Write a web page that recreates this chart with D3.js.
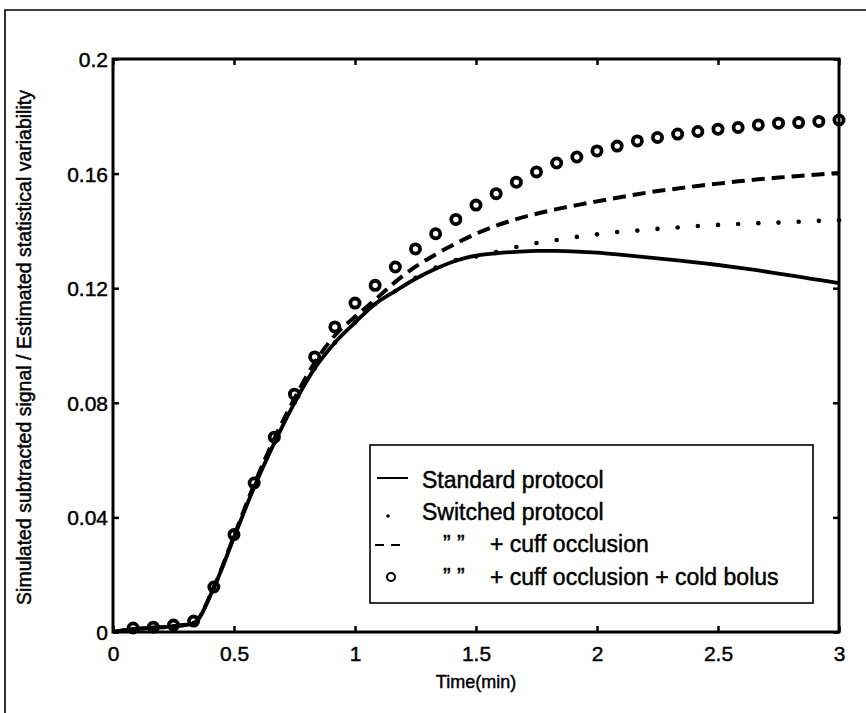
<!DOCTYPE html>
<html>
<head>
<meta charset="utf-8">
<script src="https://cdn.jsdelivr.net/npm/d3@7"></script>
<style>
  html, body { margin: 0; padding: 0; background: #fff; }
  svg { display: block; }
  text { font-family: "Liberation Sans", Arial, Helvetica, sans-serif; fill: #000; stroke: #000; stroke-width: 0.45px; }
</style>
</head>
<body>
<script>
// ---- data (time in minutes, sampled every 5 s) ----
const time = [0, 0.0833, 0.1667, 0.25, 0.3333, 0.4167, 0.5, 0.5833, 0.6667, 0.75, 0.8333, 0.9167,
  1.0, 1.0833, 1.1667, 1.25, 1.3333, 1.4167, 1.5, 1.5833, 1.6667, 1.75, 1.8333, 1.9167,
  2.0, 2.0833, 2.1667, 2.25, 2.3333, 2.4167, 2.5, 2.5833, 2.6667, 2.75, 2.8333, 2.9167, 3.0];

const standardProtocol = [0, 0.001, 0.0015, 0.002, 0.003, 0.0155, 0.033, 0.0505, 0.066, 0.080, 0.092, 0.101,
  0.108, 0.1145, 0.119, 0.1233, 0.1268, 0.1296, 0.1314, 0.1322, 0.1327, 0.1330, 0.1330, 0.1328,
  0.1324, 0.1318, 0.1311, 0.1304, 0.1297, 0.1289, 0.1281, 0.1272, 0.1262, 0.1251, 0.1240, 0.1229, 0.1218];

const switchedProtocol = [null, 0.001, 0.0015, 0.002, 0.003, 0.0155, 0.033, 0.0505, 0.066, 0.080, 0.092, 0.101,
  0.108, 0.1145, 0.119, 0.1236, 0.1272, 0.1298, 0.1311, 0.1326, 0.1344, 0.1358, 0.1368, 0.1379,
  0.1388, 0.1396, 0.1401, 0.1407, 0.1412, 0.1417, 0.1421, 0.1424, 0.1427, 0.1429, 0.1432, 0.1435, 0.1437];

const cuffOcclusion = [0, 0.001, 0.0015, 0.002, 0.0032, 0.0157, 0.0335, 0.0515, 0.0675, 0.0815, 0.094, 0.1035,
  0.110, 0.116, 0.1222, 0.1275, 0.1318, 0.1356, 0.1390, 0.1418, 0.1441, 0.146, 0.1476, 0.149,
  0.1503, 0.1516, 0.1528, 0.1539, 0.1548, 0.1557, 0.1565, 0.1573, 0.158, 0.1586, 0.1592, 0.1597, 0.1602];

const cuffColdBolus = [null, 0.0014, 0.0017, 0.0024, 0.0038, 0.0157, 0.034, 0.052, 0.068, 0.083, 0.096, 0.1065,
  0.1148, 0.121, 0.1274, 0.1337, 0.139, 0.144, 0.149, 0.153, 0.157, 0.1606, 0.1637, 0.1658,
  0.1679, 0.1696, 0.1714, 0.1726, 0.1738, 0.1747, 0.1755, 0.1761, 0.177, 0.1776, 0.1778, 0.1782, 0.1787];

const xTicks = [0, 0.5, 1, 1.5, 2, 2.5, 3];
const xTickLabels = ["0", "0.5", "1", "1.5", "2", "2.5", "3"];
const yTicks = [0, 0.04, 0.08, 0.12, 0.16, 0.2];
const yTickLabels = ["0", "0.04", "0.08", "0.12", "0.16", "0.2"];

const legendLabels = ["Standard protocol", "Switched protocol", "+ cuff occlusion", "+ cuff occlusion + cold bolus"];
const xLabel = "Time(min)";
const yLabel = "Simulated subtracted signal / Estimated statistical variability";

// ---- layout ----
const W = 866, H = 713;
const L = 113, R = 839, T = 59, B = 632;

const svg = d3.select("body").append("svg").attr("width", W).attr("height", H);
svg.append("rect").attr("width", W).attr("height", H).attr("fill", "#fff");

// outer figure frame
svg.append("path").attr("d", `M5,${H} L5,10 L${W},10`).attr("fill", "none")
  .attr("stroke", "#000").attr("stroke-width", 1.6);

const x = d3.scaleLinear().domain([0, 3]).range([L, R]);
const y = d3.scaleLinear().domain([0, 0.2]).range([B, T]);

const tickFont = 21;

// axes (MATLAB style: ticks inward, mirrored)
const gx = svg.append("g").attr("transform", `translate(0,${B})`)
  .call(d3.axisBottom(x).tickValues(xTicks).tickSizeInner(-6).tickSizeOuter(0).tickPadding(14)
    .tickFormat((d, i) => xTickLabels[i]));
const gxTop = svg.append("g").attr("transform", `translate(0,${T})`)
  .call(d3.axisTop(x).tickValues(xTicks).tickSizeInner(-6).tickSizeOuter(0).tickFormat(""));
const gy = svg.append("g").attr("transform", `translate(${L},0)`)
  .call(d3.axisLeft(y).tickValues(yTicks).tickSizeInner(-6).tickSizeOuter(0).tickPadding(5)
    .tickFormat((d, i) => yTickLabels[i]));
const gyR = svg.append("g").attr("transform", `translate(${R},0)`)
  .call(d3.axisRight(y).tickValues(yTicks).tickSizeInner(-6).tickSizeOuter(0).tickFormat(""));

[gx, gxTop, gy, gyR].forEach(g => {
  g.select(".domain").remove();
  g.selectAll(".tick line").attr("stroke", "#000").attr("stroke-width", 2.5);
  g.selectAll(".tick text").attr("font-size", tickFont).attr("font-family", "Liberation Sans, Arial, sans-serif").attr("fill", "#000");
});
gy.selectAll(".tick text").attr("dy", "0.36em");

// data series
const pts = (vals) => time.map((t, i) => ({ t, v: vals[i] })).filter(d => d.v !== null);
const line = d3.line().x(d => x(d.t)).y(d => y(d.v)).curve(d3.curveMonotoneX);

const plot = svg.append("g");

plot.append("path").datum(pts(standardProtocol)).attr("d", line)
  .attr("fill", "none").attr("stroke", "#000").attr("stroke-width", 3.8).attr("stroke-linejoin", "round");

plot.append("path").datum(pts(cuffOcclusion)).attr("d", line)
  .attr("fill", "none").attr("stroke", "#000").attr("stroke-width", 4)
  .attr("stroke-dasharray", "13,7");

plot.selectAll("circle.sw").data(pts(switchedProtocol)).join("circle").attr("class", "sw")
  .attr("cx", d => x(d.t)).attr("cy", d => y(d.v)).attr("r", 2.3).attr("fill", "#000");

plot.selectAll("circle.cb").data(pts(cuffColdBolus)).join("circle").attr("class", "cb")
  .attr("cx", d => x(d.t)).attr("cy", d => y(d.v)).attr("r", 4.6)
  .attr("fill", "none").attr("stroke", "#000").attr("stroke-width", 3.8);

// axes box
svg.append("rect").attr("x", L).attr("y", T).attr("width", R - L).attr("height", B - T)
  .attr("fill", "none").attr("stroke", "#000").attr("stroke-width", 3);

// axis labels
svg.append("text").attr("x", (L + R) / 2).attr("y", 688).attr("text-anchor", "middle")
  .attr("font-size", 18).text(xLabel);
svg.append("text").attr("transform", `translate(31,${(T + B) / 2 + 2}) rotate(-90)`)
  .attr("text-anchor", "middle").attr("font-size", 19.5).text(yLabel);

// legend
const lg = svg.append("g");
lg.append("rect").attr("x", 370).attr("y", 445).attr("width", 443).attr("height", 158)
  .attr("fill", "#fff").attr("stroke", "#000").attr("stroke-width", 1.6);
const rowY = [488, 520, 552, 585];
const legFont = 23;
lg.append("line").attr("x1", 377).attr("x2", 408).attr("y1", rowY[0] - 10).attr("y2", rowY[0] - 10)
  .attr("stroke", "#000").attr("stroke-width", 2);
lg.append("circle").attr("cx", 388).attr("cy", rowY[1] - 4).attr("r", 1.8).attr("fill", "#000");
lg.append("line").attr("x1", 375).attr("x2", 407).attr("y1", rowY[2] - 7).attr("y2", rowY[2] - 7)
  .attr("stroke", "#000").attr("stroke-width", 2).attr("stroke-dasharray", "9,7");
lg.append("circle").attr("cx", 391).attr("cy", rowY[3] - 8).attr("r", 4).attr("fill", "none")
  .attr("stroke", "#000").attr("stroke-width", 2);
lg.append("text").attr("x", 422).attr("y", rowY[0]).attr("font-size", legFont).text(legendLabels[0]);
lg.append("text").attr("x", 422).attr("y", rowY[1]).attr("font-size", legFont).text(legendLabels[1]);
lg.append("text").attr("x", 443).attr("y", rowY[2]).attr("font-size", legFont).text("\u201D \u201D");
lg.append("text").attr("x", 490).attr("y", rowY[2]).attr("font-size", legFont).text(legendLabels[2]);
lg.append("text").attr("x", 443).attr("y", rowY[3]).attr("font-size", legFont).text("\u201D \u201D");
lg.append("text").attr("x", 490).attr("y", rowY[3]).attr("font-size", legFont).text(legendLabels[3]);
</script>
</body>
</html>
